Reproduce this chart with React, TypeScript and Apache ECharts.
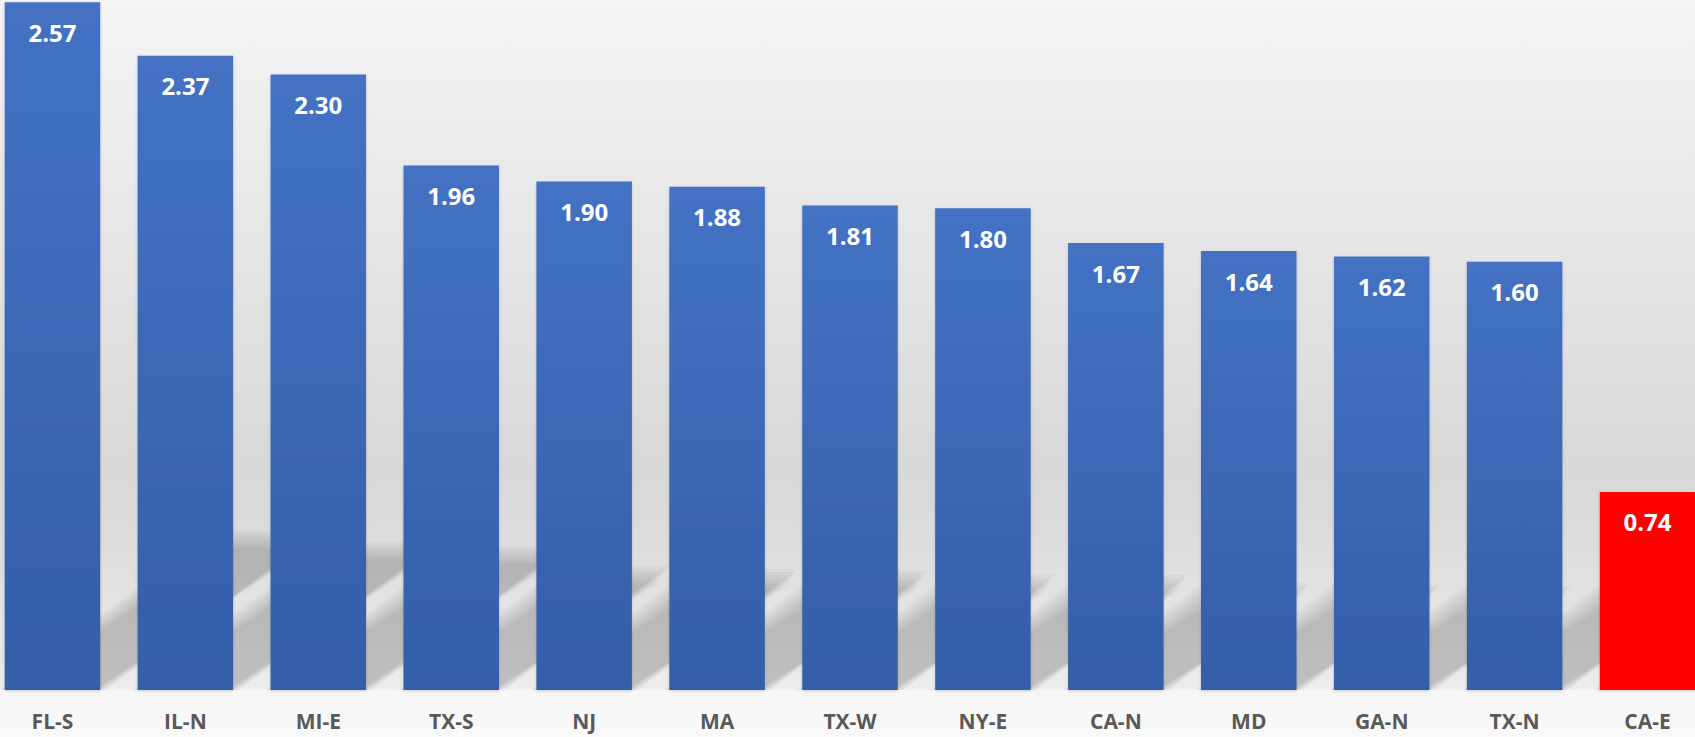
import React, { useEffect, useRef } from "react";
import * as echarts from "echarts";

const categories = ["FL-S", "IL-N", "MI-E", "TX-S", "NJ", "MA", "TX-W", "NY-E", "CA-N", "MD", "GA-N", "TX-N", "CA-E"];
const values = [2.57, 2.37, 2.3, 1.96, 1.9, 1.88, 1.81, 1.8, 1.67, 1.64, 1.62, 1.6, 0.74];
const highlighted = ["CA-E"];

const BAR_W = 95.5;
const FONT = "'Open Sans', 'Noto Sans', sans-serif";

export default function App() {
  const ref = useRef<HTMLDivElement>(null);

  useEffect(() => {
    if (!ref.current) return;
    const chart = echarts.init(ref.current, undefined, { renderer: "svg" });

    const barData = values.map((v, i) =>
      highlighted.includes(categories[i])
        ? { value: v, itemStyle: { color: "#ff0000" } }
        : v
    );

    const shadowData = values.map((v, i) => [i, v]);

    const option = {
      animation: false,
      grid: { left: 0, right: 0, top: 0, bottom: 47 },
      xAxis: {
        type: "category",
        data: categories,
        axisLine: { show: false },
        axisTick: { show: false },
        axisLabel: {
          color: "#595959",
          fontWeight: "bold",
          fontSize: 21,
          fontFamily: FONT,
          margin: 20,
        },
      },
      yAxis: {
        type: "value",
        min: 0,
        max: 2.578,
        show: false,
        splitLine: { show: false },
      },
      series: [
        {
          type: "custom",
          z: 1,
          silent: true,
          data: shadowData,
          clip: false,
          renderItem: (params: any, api: any) => {
            const idx = api.value(0);
            const v = api.value(1);
            const base = api.coord([idx, 0]);
            const top = api.coord([idx, v]);
            const h = base[1] - top[1];
            const sh = h * 0.22;
            const dx = sh / 0.7;
            const y = base[1];
            const children = [-6, -4, -2, 0, 2, 4, 6].map((e) => {
              const x0 = base[0] - BAR_W / 2 - e;
              const x1 = base[0] + BAR_W / 2 + e;
              return {
                type: "polygon",
                shape: {
                  points: [
                    [x0, y],
                    [x1, y],
                    [x1 + dx, y - sh - 1.5 * e],
                    [x0 + dx, y - sh - 1.5 * e],
                  ],
                },
                style: { fill: "rgba(0,0,0,0.027)" },
              };
            });
            return { type: "group", children };
          },
        },
        {
          type: "bar",
          z: 2,
          data: barData,
          barWidth: BAR_W,
          itemStyle: {
            color: new echarts.graphic.LinearGradient(0, 0, 0, 1, [
              { offset: 0, color: "#4472c4" },
              { offset: 1, color: "#345ea8" },
            ]),
            shadowBlur: 3,
            shadowColor: "rgba(0,0,0,0.18)",
            shadowOffsetY: 1,
          },
          label: {
            show: true,
            position: "insideTop",
            distance: 18,
            color: "#ffffff",
            fontWeight: "bold",
            fontSize: 24,
            fontFamily: FONT,
            formatter: (p: any) => Number(p.value).toFixed(2),
          },
        },
      ],
    };

    chart.setOption(option as any);
    return () => chart.dispose();
  }, []);

  return (
    <div
      style={{
        position: "fixed",
        left: 0,
        top: 0,
        width: 1695,
        height: 737,
        overflow: "hidden",
        background:
          "linear-gradient(to bottom, #f4f4f4 0px, #d8d8d8 470px, #dcdcdc 540px, #e4e4e4 610px, #ececec 688px, #f6f6f6 691px, #f9f9f9 737px)",
      }}
    >
      <div
        ref={ref}
        style={{
          position: "absolute",
          left: -13.7,
          top: 0,
          width: 1728,
          height: 737,
        }}
      />
    </div>
  );
}
